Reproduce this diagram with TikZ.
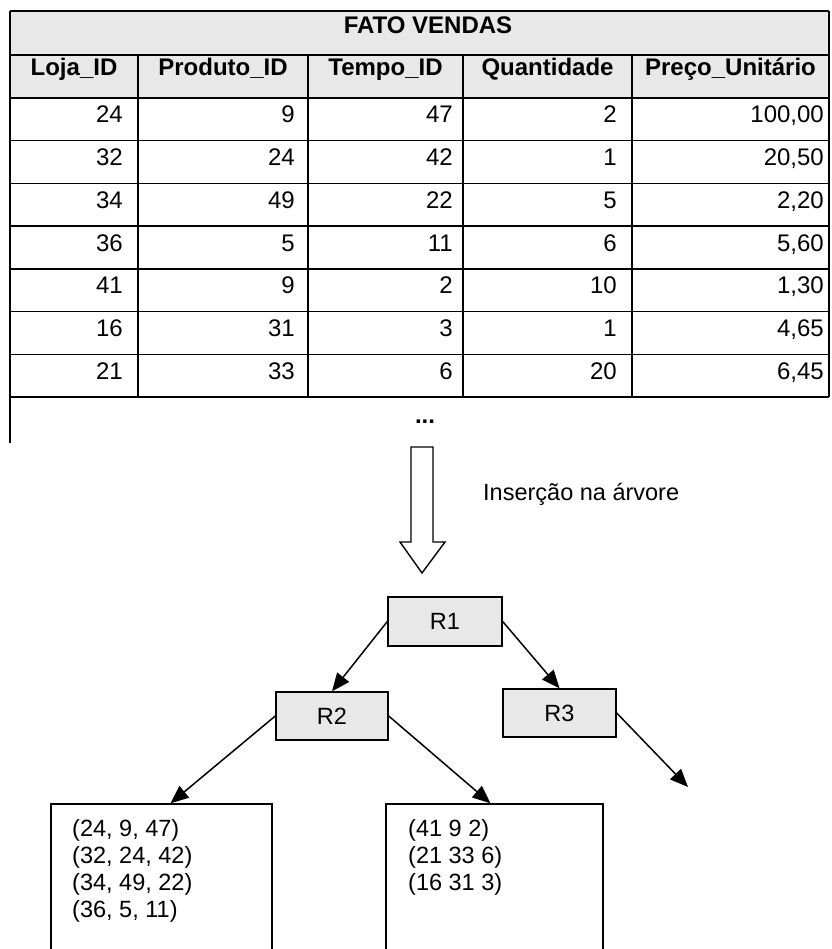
\documentclass[tikz,border=0pt]{standalone}
\usepackage{fontspec}
\setmainfont{Liberation Sans}
\usetikzlibrary{arrows.meta}
\begin{document}
\begin{tikzpicture}[x=1pt,y=-1pt,
  rule/.style={line width=1.4pt},
  shade/.style={fill=black!9},
  hdr/.style={font=\fontsize{24}{28}\selectfont\bfseries, anchor=base, inner sep=0pt},
  num/.style={font=\fontsize{24}{28}\selectfont, anchor=base east, inner sep=0pt},
  plain/.style={font=\fontsize{23.5}{27}\selectfont, inner sep=0pt},
  rbox/.style={draw, line width=1.4pt, shade, font=\fontsize{23.5}{27}\selectfont, inner sep=0pt},
  leaf/.style={draw, line width=1.4pt, minimum height=300pt, inner sep=0pt},
  link/.style={line width=1.5pt, -{Triangle[length=18pt,width=15pt]}}
]
\useasboundingbox (0,0) rectangle (831,949);

% ---- fact table ----
\fill[shade] (10,11) rectangle (829,98);
\foreach \y in {11,55,98,140.7,183.4,226.1,268.9,311.6,354.3,397}
  \draw[rule] (10,\y) -- (829,\y);
\draw[rule] (10,11) -- (10,443);
\draw[rule] (829,11) -- (829,397);
\foreach \x in {138,308,463,632}
  \draw[rule] (\x,55) -- (\x,397);

\node[hdr] (title) at (428,34) {FATO VENDAS};
\foreach \t/\x [count=\i] in {Loja\_ID/74, Produto\_ID/223, Tempo\_ID/385.5, Quantidade/547.5, Preço\_Unitário/730.5}
  \node[hdr] (h\i) at (\x,76) {\t};

\foreach \a/\b/\c/\d/\e [count=\r] in {
    24/9/47/2/{100,00},
    32/24/42/1/{20,50},
    34/49/22/5/{2,20},
    36/5/11/6/{5,60},
    41/9/2/10/{1,30},
    16/31/3/1/{4,65},
    21/33/6/20/{6,45}}
{
  \pgfmathsetmacro{\yb}{98+42.71*(\r-1)+25}
  \node[num] (c\r-1) at (123,\yb) {\a};
  \node[num] (c\r-2) at (295,\yb) {\b};
  \node[num] (c\r-3) at (453,\yb) {\c};
  \node[num] (c\r-4) at (617,\yb) {\d};
  \node[num] (c\r-5) at (824,\yb) {\e};
}
\node[hdr] (more) at (425,423) {...};

% ---- insertion arrow ----
\draw[rule, fill=white] (411,447) -- (411,542) -- (400,542) -- (422,573)
  -- (445,542) -- (433,542) -- (433,447) -- cycle;
\node[plain, anchor=base west] (ins) at (483,500) {Inserção na árvore};

% ---- tree ----
\node[rbox, minimum width=114pt, minimum height=49pt] (R1) at (445,621.5) {R1};
\node[rbox, minimum width=112pt, minimum height=48pt] (R2) at (332,716) {R2};
\node[rbox, minimum width=113pt, minimum height=48pt] (R3) at (559.5,713) {R3};

\node[leaf, minimum width=221pt] (L1) at (161.5,954) {};
\node[leaf, minimum width=217pt] (L2) at (494.5,954) {};

\foreach \t [count=\i] in {{(24, 9, 47)},{(32, 24, 42)},{(34, 49, 22)},{(36, 5, 11)}}
  \node[plain, anchor=base west] (p\i) at (72,836+27*\i-27) {\t};
\foreach \t [count=\i] in {{(41 9 2)},{(21 33 6)},{(16 31 3)}}
  \node[plain, anchor=base west] (q\i) at (408,836+27*\i-27) {\t};

\coordinate (R3end) at (688,787);
\draw[link] (R1.west) -- (R2.north);
\draw[link] (R1.east) -- (R3.north);
\draw[link] (R2.west) -- ([xshift=9pt]L1.north);
\draw[link] (R2.east) -- ([xshift=-4pt]L2.north);
\draw[link] (R3.east) -- (R3end);
\end{tikzpicture}
\end{document}
